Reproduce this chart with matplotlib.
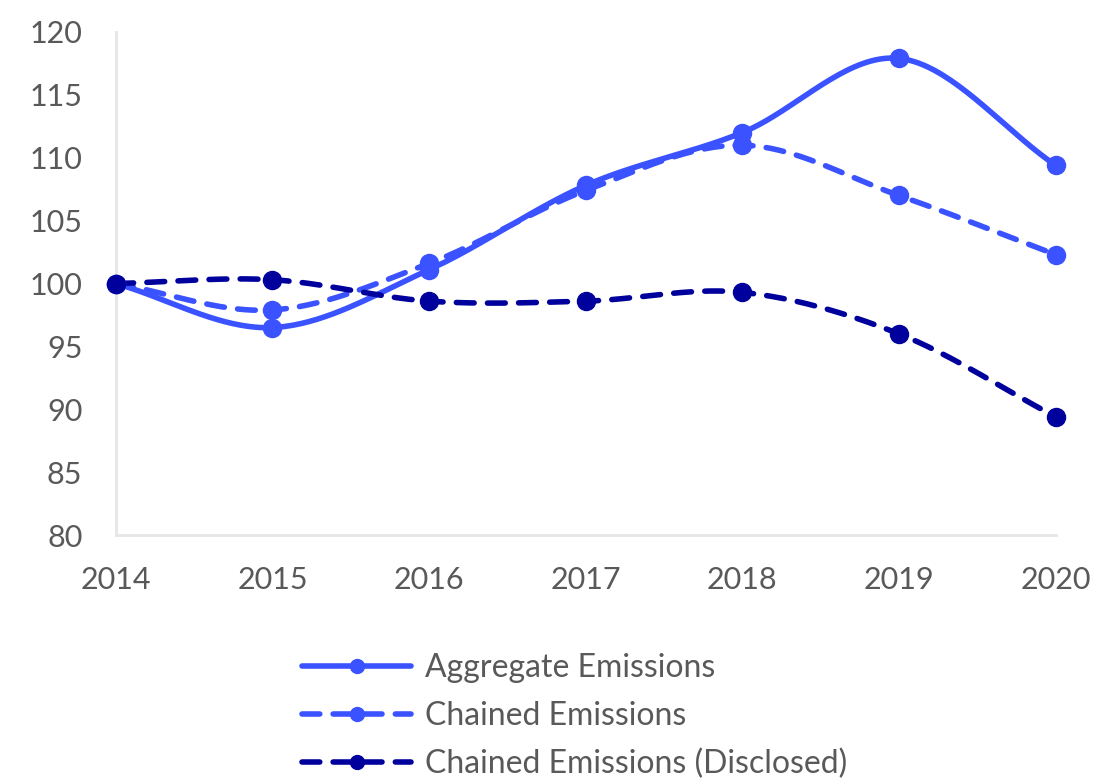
import numpy as np
import matplotlib
matplotlib.use("Agg")
import matplotlib.pyplot as plt

years = [2014, 2015, 2016, 2017, 2018, 2019, 2020]
aggregate = [100.0, 96.5, 101.1, 107.8, 112.0, 117.9, 109.4]
chained = [100.0, 97.9, 101.6, 107.4, 111.0, 107.0, 102.3]
disclosed = [100.0, 100.3, 98.6, 98.6, 99.3, 96.0, 89.4]

labels = ["Aggregate Emissions", "Chained Emissions", "Chained Emissions (Disclosed)"]
colors = ["#3A52FF", "#3A52FF", "#00009C"]
styles = ["-", (0, (3.2, 2.4)), (0, (3.2, 2.4))]

plt.rcParams['font.family'] = ['Lato', 'DejaVu Sans']
grey = "#595959"


def smooth(x, y, n=40):
    # catmull-rom style smoothing like excel's smoothed line
    x = np.asarray(x, float)
    y = np.asarray(y, float)
    px = np.concatenate([[2 * x[0] - x[1]], x, [2 * x[-1] - x[-2]]])
    py = np.concatenate([[2 * y[0] - y[1]], y, [2 * y[-1] - y[-2]]])
    xs, ys = [], []
    for i in range(1, len(px) - 2):
        t = np.linspace(0, 1, n)
        for p, out in ((px, xs), (py, ys)):
            p0, p1, p2, p3 = p[i - 1], p[i], p[i + 1], p[i + 2]
            out.append(0.5 * ((2 * p1) + (-p0 + p2) * t
                              + (2 * p0 - 5 * p1 + 4 * p2 - p3) * t ** 2
                              + (-p0 + 3 * p1 - 3 * p2 + p3) * t ** 3))
    return np.concatenate(xs), np.concatenate(ys)


fig = plt.figure(figsize=(11.03, 7.8), dpi=100)
ax = fig.add_axes([0.105, 0.314, 0.852, 0.645])

handles = []
for vals, lab, c, ls in zip([aggregate, chained, disclosed], labels, colors, styles):
    sx, sy = smooth(years, vals)
    ax.plot(sx, sy, color=c, lw=4, ls=ls, solid_capstyle='round',
            dash_capstyle='round', clip_on=False)
    ax.plot(years, vals, 'o', color=c, ms=13, clip_on=False, zorder=3)
    h, = plt.plot([], [], color=c, lw=4, ls=ls, marker='o', ms=10,
                  solid_capstyle='round', dash_capstyle='round')
    handles.append(h)

ax.set_xlim(2014, 2020)
ax.set_ylim(80, 120)
ax.set_yticks(range(80, 121, 5))
ax.set_xticks(years)
ax.tick_params(length=0, labelsize=22, labelcolor=grey)
ax.tick_params(axis='x', pad=22)
ax.tick_params(axis='y', pad=24)
for s in ['top', 'right']:
    ax.spines[s].set_visible(False)
for s in ['left', 'bottom']:
    ax.spines[s].set_color("#E6E6E6")
    ax.spines[s].set_linewidth(2)

leg = fig.legend(handles, labels, loc='lower left', bbox_to_anchor=(0.248, -0.036),
                 frameon=False, fontsize=23, handlelength=3.4, labelspacing=0.56,
                 handletextpad=0.45, labelcolor=grey)

fig.savefig("out.png", dpi=100)
